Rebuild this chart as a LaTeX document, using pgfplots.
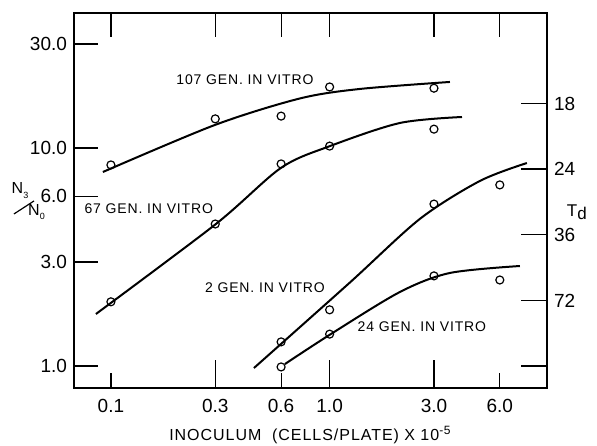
\documentclass[border=0pt]{standalone}
\usepackage{fontspec}
\setmainfont{Liberation Sans}
\usepackage{pgfplots}
\pgfplotsset{compat=1.18}
\newcommand{\lab}{\fontsize{7}{8}\selectfont\addfontfeature{LetterSpace=6}}
\begin{document}
\begin{tikzpicture}
\begin{axis}[
  scale only axis, width=236.5pt, height=187.5pt,
  xmode=log, ymode=log,
  xmin=0.0678, xmax=9.86, ymin=0.793, ymax=41.6,
  axis line style={line width=0.75pt},
  every tick/.style={line width=0.6pt, black},
  tick align=inside,
  xminorticks=false, yminorticks=false,
  major tick length=12pt,
  xtick={0.1,0.3,0.6,1,3,6},
  xticklabels={0.1,0.3,0.6,1.0,3.0,6.0},
  ytick={1,3,6,10,30},
  yticklabels={1.0,3.0,6.0,10.0,30.0},
  ytick pos=left,
  xtick pos=right, xticklabel pos=left,
  /pgf/number format/assume math mode=true,
  tick label style={font=\fontsize{9.5}{10}\selectfont},
  xticklabel style={yshift=-2pt},
  clip=false,
]
% 107 gen
\addplot[only marks, mark=o, mark size=2pt, line width=0.6pt] coordinates {
 (0.1,8.36) (0.3,13.6) (0.6,14.0) (1.0,19.05) (3.0,18.8)};
\addplot[smooth, line width=1pt] coordinates {
 (0.0919,7.76) (0.2989,12.75) (0.7316,16.87) (1.375,18.65) (3.55,20.08)};
% 67 gen
\addplot[only marks, mark=o, mark size=2pt, line width=0.6pt] coordinates {
 (0.1,1.97) (0.3,4.48) (0.6,8.45) (1.0,10.2) (3.0,12.2)};
\addplot[smooth, line width=1pt] coordinates {
 (0.0854,1.732) (0.302,4.48) (0.599,8.10) (1.003,10.2) (2.096,13.02) (4.03,13.87)};
% 2 gen
\addplot[only marks, mark=o, mark size=2pt, line width=0.6pt] coordinates {
 (0.6,1.29) (1.0,1.81) (3.0,5.53) (6.0,6.77)};
\addplot[smooth, line width=1pt] coordinates {
 (0.4508,0.979) (1.238,2.415) (2.588,4.73) (4.866,7.06) (7.98,8.53)};
% 24 gen
\addplot[only marks, mark=o, mark size=2pt, line width=0.6pt] coordinates {
 (0.6,0.99) (1.0,1.40) (3.0,2.59) (6.0,2.48)};
\addplot[smooth, line width=1pt] coordinates {
 (0.6247,1.021) (1.014,1.402) (2.096,2.185) (3.548,2.671) (7.418,2.875)};

\node[font=\lab] at (axis cs:0.41,20.6) {107 GEN. IN VITRO};
\node[font=\lab] at (axis cs:0.149,5.25) {67 GEN. IN VITRO};
\node[font=\lab] at (axis cs:0.506,2.28) {2 GEN. IN VITRO};
\node[font=\lab] at (axis cs:2.64,1.52) {24 GEN. IN VITRO};

\node[font=\fontsize{8}{9}\selectfont, inner sep=0pt] at (rel axis cs:-0.1142,0.5267) {N\raisebox{-0.5ex}{\fontsize{4.5}{5}\selectfont 3}};
\draw[line width=0.6pt] (rel axis cs:-0.127,0.464) -- (rel axis cs:-0.0846,0.4987);
\node[font=\fontsize{8}{9}\selectfont, inner sep=0pt] at (rel axis cs:-0.0793,0.4693) {N\raisebox{-0.5ex}{\fontsize{4.5}{5}\selectfont 0}};
\node[font=\fontsize{8}{9}\selectfont\addfontfeature{LetterSpace=6}] at (rel axis cs:0.5,-0.126) {INOCULUM \ (CELLS/PLATE) X 10\textsuperscript{-5}};
\node[font=\fontsize{8.5}{10}\selectfont] at (rel axis cs:1.063,0.469) {T\raisebox{-0.3ex}{d}};
\end{axis}
% long bottom ticks
\begin{axis}[
  scale only axis, width=236.5pt, height=187.5pt,
  xmode=log, ymode=log,
  xmin=0.0678, xmax=9.86, ymin=0.793, ymax=41.6,
  axis line style={line width=0.75pt},
  every tick/.style={line width=0.6pt, black},
  tick align=inside,
  xminorticks=false, yminorticks=false,
  axis y line=none, axis x line*=bottom,
  major tick length=14pt,
  xtick={0.3,1,3}, xticklabels={,,},
]
\addplot[draw=none] coordinates {(1,1)};
\end{axis}
% short bottom ticks
\begin{axis}[
  scale only axis, width=236.5pt, height=187.5pt,
  xmode=log, ymode=log,
  xmin=0.0678, xmax=9.86, ymin=0.793, ymax=41.6,
  axis line style={line width=0.75pt},
  every tick/.style={line width=0.6pt, black},
  tick align=inside,
  xminorticks=false, yminorticks=false,
  axis y line=none, axis x line*=bottom,
  major tick length=7.5pt,
  xtick={0.1,0.6,6}, xticklabels={,,},
]
\addplot[draw=none] coordinates {(1,1)};
\end{axis}
% right Td axis
\begin{axis}[
  scale only axis, width=236.5pt, height=187.5pt,
  xmode=log, ymode=log,
  xmin=0.0678, xmax=9.86, ymin=0.793, ymax=41.6,
  axis line style={line width=0.75pt},
  every tick/.style={line width=0.6pt, black},
  tick align=inside,
  xminorticks=false, yminorticks=false,
  axis x line=none, axis y line*=right,
  major tick length=13pt,
  ytick={1,2,4,8,16},
  yticklabels={,72,36,24,18},
  tick label style={font=\fontsize{9.5}{10}\selectfont},
]
\addplot[draw=none] coordinates {(1,1)};
\end{axis}
\pgfresetboundingbox
\path ([shift={(-37pt,-29pt)}]current axis.south west) rectangle ([shift={(25pt,6.5pt)}]current axis.north east);
\end{tikzpicture}
\end{document}
